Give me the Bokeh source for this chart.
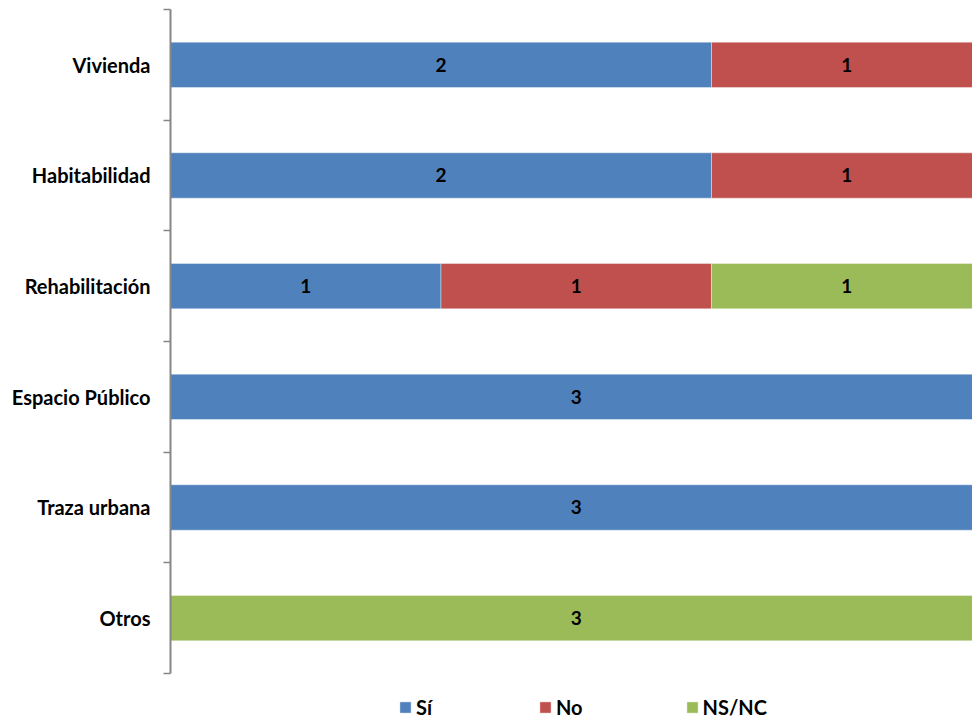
from bokeh.plotting import figure
from bokeh.models import Range1d, FixedTicker, Legend, LegendItem, ColumnDataSource
from bokeh.core.properties import value
from bokeh.embed import file_html
from bokeh.resources import INLINE

# Data (bottom to top)
categories = ["Otros", "Traza urbana", "Espacio Público", "Rehabilitación", "Habitabilidad", "Vivienda"]
si = [0, 3, 3, 1, 2, 2]
no = [0, 0, 0, 1, 1, 1]
nsnc = [3, 0, 0, 1, 0, 0]
series_names = ["Sí", "No", "NS/NC"]
colors = ["#4F81BD", "#C0504D", "#9BBB59"]

FONT = "Lato"

ys = [i + 0.5 for i in range(len(categories))]
data = dict(y=ys, si=si, no=no, nsnc=nsnc)
src = ColumnDataSource(data)

# extra room below the categories for the legend (inside the frame)
p = figure(width=972, height=719, output_backend="svg", toolbar_location=None,
           x_range=Range1d(0, 2.965), y_range=Range1d(-0.4157, 6),
           min_border_left=170, min_border_right=0, min_border_top=9, min_border_bottom=0)
p.outline_line_color = None
p.xgrid.visible = False
p.ygrid.visible = False
p.xaxis.visible = False

renderers = p.hbar_stack(["si", "no", "nsnc"], y="y", height=0.41, color=colors,
                         line_color="white", line_alpha=0.4, line_width=1, source=src)

# Data labels
lx, ly, lt = [], [], []
for i in range(len(categories)):
    start = 0
    for vals in (si, no, nsnc):
        v = vals[i]
        if v > 0:
            lx.append(start + v / 2)
            ly.append(ys[i])
            lt.append(str(v))
        start += v
p.text(x=lx, y=ly, text=lt, text_align="center", text_baseline="middle",
       text_font=value(FONT), text_font_style="bold", text_font_size="19px", text_color="black")

# Y axis: labels at centers, tick marks at boundaries
yax = p.yaxis[0]
yax.bounds = (0, len(categories))
yax.ticker = FixedTicker(ticks=ys, minor_ticks=list(range(len(categories) + 1)))
yax.major_label_overrides = {y: c for y, c in zip(ys, categories)}
yax.major_tick_out = 0
yax.major_tick_in = 0
yax.minor_tick_out = 7
yax.minor_tick_in = 0
yax.minor_tick_line_color = "#868686"
yax.minor_tick_line_width = 1.5
yax.axis_line_color = "#868686"
yax.axis_line_width = 2
yax.major_label_standoff = 13
yax.major_label_text_font = FONT
yax.major_label_text_font_style = "bold"
yax.major_label_text_font_size = "20px"
yax.major_label_text_color = "black"

items = [LegendItem(label=n, renderers=[r]) for n, r in zip(series_names, renderers)]
legend = Legend(items=items, orientation="horizontal", location=(228, 0),
                glyph_width=14, glyph_height=14, label_standoff=4, spacing=102,
                padding=0, margin=0, border_line_color=None, background_fill_alpha=0,
                label_text_font=FONT, label_text_font_style="bold", label_text_font_size="20px",
                label_text_color="black")
p.add_layout(legend, "center")

open("out.html", "w").write(file_html(p, INLINE))
